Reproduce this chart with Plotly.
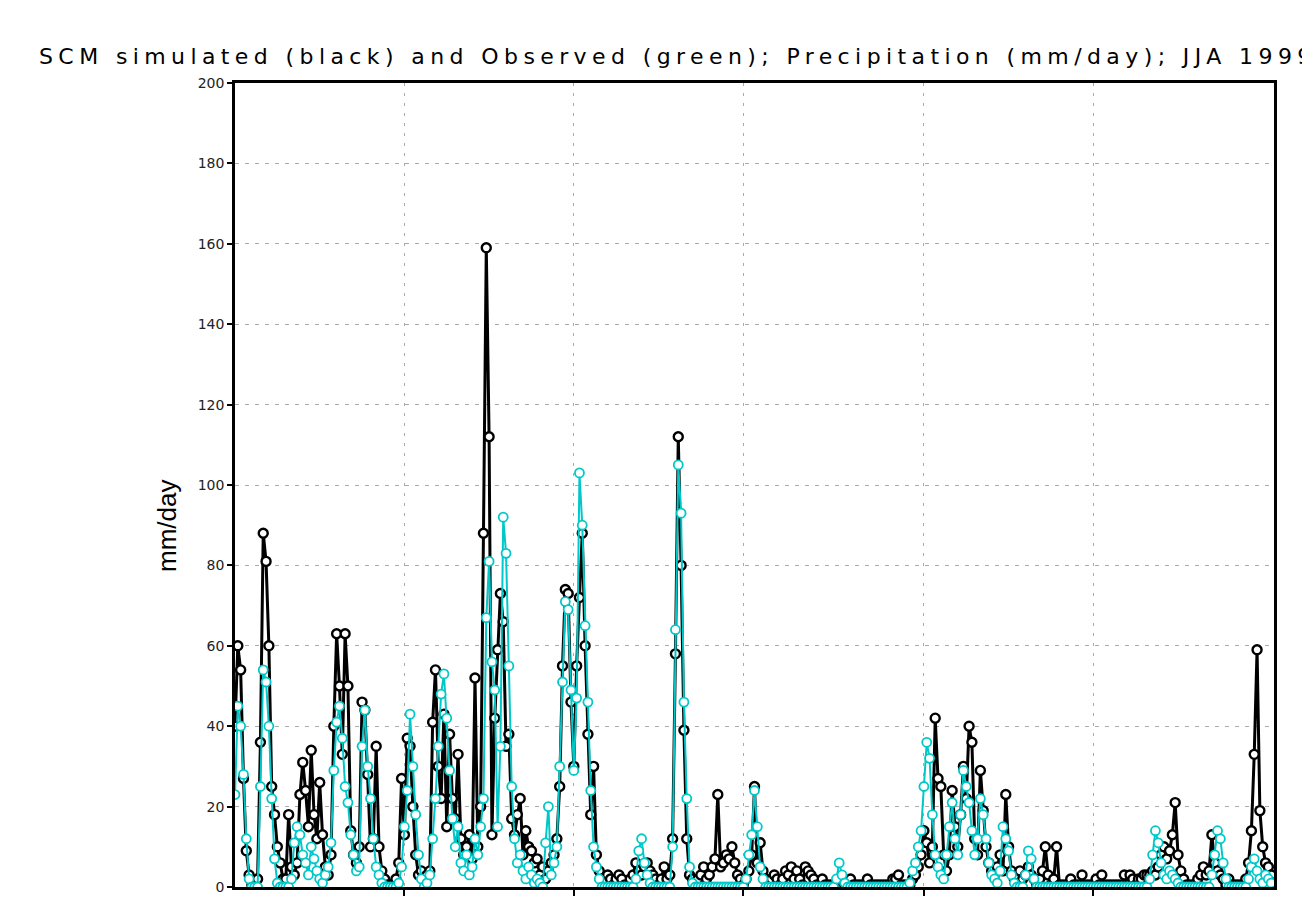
import pandas as pd
import plotly.graph_objects as go

# 6-hourly precipitation (mm/day), JJA 1999
sim_jun = [
    40, 60, 54, 27, 9, 3, 0.5, 0.5, 2, 36,
    88, 81, 60, 25, 18, 10, 6, 2, 2, 18,
    5, 3, 6, 23, 31, 24, 15, 34, 18, 12,
    26, 13, 5, 3, 8, 40, 63, 50, 33, 63,
    50, 14, 8, 6, 10, 46, 44, 28, 10, 12,
    35, 10, 4, 2, 0.5, 0.5, 0.5, 2, 6, 27,
    13, 37, 35, 20, 8, 3, 4, 2, 3, 4,
    41, 54, 30, 22, 43, 15, 38, 22, 17, 33,
    12, 8, 10, 13, 7, 52, 10, 20, 88, 159,
    112, 13, 42, 59, 73, 66, 35, 38, 17, 13,
    18, 22, 8, 14, 10, 9, 6, 7, 3, 5,
    2, 4, 6, 8, 12, 25, 55, 74, 73, 46,
]
sim_jul = [
    30, 55, 72, 88, 60, 38, 18, 30, 8, 4,
    2, 2, 3, 2, 0.5, 2, 3, 2, 0.5, 0.5,
    2, 3, 6, 4, 3, 5, 6, 4, 3, 2,
    0.5, 2, 5, 2, 3, 12, 58, 112, 80, 39,
    12, 3, 2, 0.5, 2, 3, 5, 2, 3, 5,
    7, 23, 5, 6, 8, 7, 10, 6, 3, 2,
    0.5, 2, 4, 8, 25, 6, 11, 4, 2, 0.5,
    2, 3, 2, 0.5, 2, 4, 3, 5, 2, 4,
    2, 0.5, 5, 4, 3, 2, 0.5, 0.5, 2, 0.5,
    0.5, 0.5, 0.5, 0.5, 0.5, 0.5, 0.5, 0.5, 2, 0.5,
    0.5, 0.5, 0.5, 0.5, 2, 0.5, 0.5, 0.5, 0.5, 0.5,
    0.5, 0.5, 0.5, 2, 2, 3, 0.5, 0.5, 0.5, 0.5,
    2, 3, 5, 8,
]
sim_aug = [
    14, 11, 6, 10, 42, 27, 25, 8, 4, 8,
    24, 15, 10, 18, 30, 22, 40, 36, 12, 8,
    29, 19, 10, 6, 4, 3, 5, 8, 4, 23,
    10, 4, 2, 3, 4, 2, 3, 5, 3, 2,
    0.5, 2, 4, 10, 3, 0.5, 2, 10, 0.5, 0.5,
    0.5, 0.5, 2, 0.5, 0.5, 0.5, 3, 0.5, 0.5, 0.5,
    0.5, 2, 0.5, 3, 0.5, 0.5, 0.5, 0.5, 0.5, 0.5,
    0.5, 3, 0.5, 3, 2, 0.5, 2, 2, 3, 3,
    3, 4, 3, 5, 8, 10, 7, 9, 13, 21,
    8, 4, 2, 0.5, 0.5, 0.5, 0.5, 2, 3, 5,
    3, 4, 13, 6, 4, 3, 2, 0.5, 2, 0.5,
    0.5, 0.5, 0.5, 0.5, 2, 6, 14, 33, 59, 19,
    10, 6, 5, 3,
]
obs_jun = [
    23, 45, 40, 28, 12, 2, 0, 0, 0, 25,
    54, 51, 40, 22, 7, 1, 0, 0, 0, 0,
    2, 11, 15, 13, 8, 6, 3, 10, 7, 4,
    2, 1, 3, 5, 11, 29, 41, 45, 37, 25,
    21, 13, 8, 4, 5, 35, 44, 30, 22, 12,
    5, 3, 1, 0, 0, 0, 0, 0, 1, 5,
    15, 24, 43, 30, 18, 8, 2, 0, 1, 3,
    12, 22, 35, 48, 53, 42, 29, 17, 10, 15,
    6, 4, 8, 3, 5, 12, 8, 15, 22, 67,
    81, 56, 49, 15, 35, 92, 83, 55, 25, 12,
    6, 8, 4, 2, 5, 3, 1, 2, 1, 0,
    11, 20, 3, 6, 10, 30, 51, 71, 69, 49,
]
obs_jul = [
    29, 47, 103, 90, 65, 46, 24, 10, 5, 2,
    0, 0, 0, 0, 0, 0, 0, 0, 0, 0,
    0, 0, 2, 9, 12, 6, 3, 1, 0, 0,
    0, 0, 0, 0, 0, 10, 64, 105, 93, 46,
    22, 5, 1, 0, 0, 0, 0, 0, 0, 0,
    0, 0, 0, 0, 0, 0, 0, 0, 0, 0,
    0, 2, 8, 13, 24, 15, 5, 2, 0, 0,
    0, 0, 0, 0, 0, 0, 0, 0, 0, 0,
    0, 0, 0, 0, 0, 0, 0, 0, 0, 0,
    0, 0, 0, 2, 6, 3, 1, 0, 0, 0,
    0, 0, 0, 0, 0, 0, 0, 0, 0, 0,
    0, 0, 0, 0, 0, 0, 0, 0, 0, 1,
    4, 6, 10, 14,
]
obs_aug = [
    25, 36, 32, 18, 8, 5, 3, 2, 8, 15,
    21, 12, 8, 18, 29, 25, 21, 14, 8, 12,
    22, 18, 12, 6, 3, 2, 1, 4, 15, 12,
    9, 3, 1, 0, 0, 0, 3, 9, 7, 2,
    0, 0, 0, 0, 0, 0, 0, 0, 0, 0,
    0, 0, 0, 0, 0, 0, 0, 0, 0, 0,
    0, 0, 0, 0, 0, 0, 0, 0, 0, 0,
    0, 0, 0, 0, 0, 0, 0, 0, 0, 0,
    2, 8, 14, 11, 6, 3, 2, 4, 3, 2,
    1, 0, 0, 0, 0, 0, 0, 0, 0, 0,
    0, 0, 3, 8, 14, 12, 6, 2, 0, 0,
    0, 0, 0, 0, 0, 2, 5, 7, 4, 2,
    1, 3, 2, 1,
]

x_tick_dates = ["1999-06-16", "1999-07-01", "1999-07-16", "1999-08-01", "1999-08-16"]
x_tick_text = ["16JUN", "1JUL", "16JUL", "1AUG", "16AUG"]
y_ticks = [0, 20, 40, 60, 80, 100, 120, 140, 160, 180, 200]

title_text = "SCM simulated (black) and Observed (green); Precipitation (mm/day); JJA 1999"
ylabel_text = "mm/day"

sim = sim_jun + sim_jul + sim_aug
obs = obs_jun + obs_jul + obs_aug
times = pd.date_range("1999-06-01 00:00", periods=len(sim), freq="6h")

CYAN = "rgb(0,200,200)"

fig = go.Figure()
fig.add_trace(go.Scatter(
    x=times, y=sim, mode="lines+markers",
    line=dict(color="black", width=3),
    marker=dict(symbol="circle", size=9, color="white",
                line=dict(color="black", width=2.4)),
    showlegend=False,
))
fig.add_trace(go.Scatter(
    x=times, y=obs, mode="lines+markers",
    line=dict(color=CYAN, width=2),
    marker=dict(symbol="circle", size=9, color="white",
                line=dict(color=CYAN, width=1.8)),
    showlegend=False,
))

L, R, T, B = 235, 28, 83, 12
W, H = 1302, 899
pw = W - L - R
ph = H - T - B

fig.update_layout(
    template="none",
    width=W, height=H,
    margin=dict(l=L, r=R, t=T, b=B, pad=0, autoexpand=False),
    paper_bgcolor="white", plot_bgcolor="white",
    showlegend=False,
    xaxis=dict(
        type="date",
        range=["1999-06-01 00:00", "1999-09-01 00:00"],
        tickvals=x_tick_dates, ticktext=x_tick_text,
        ticks="outside", ticklen=6, tickwidth=1.5, tickcolor="black",
        tickfont=dict(family="DejaVu Sans", size=14, color="#222"),
        showgrid=True, gridcolor="#aaaaaa", gridwidth=1, griddash="3px,7px",
        showline=True, mirror=True, linecolor="black", linewidth=2.5,
        zeroline=False, automargin=False,
    ),
    yaxis=dict(
        range=[0, 200],
        tickvals=y_ticks,
        ticktext=[str(v) for v in y_ticks],
        ticks="outside", ticklen=5, tickwidth=1.5, tickcolor="black",
        tickfont=dict(family="DejaVu Sans", size=14, color="#222"),
        showgrid=True, gridcolor="#aaaaaa", gridwidth=1, griddash="4px,6px",
        showline=True, mirror=True, linecolor="black", linewidth=2.5,
        zeroline=False, automargin=False,
    ),
    annotations=[
        dict(
            text='<span style="letter-spacing:5.4px">' + title_text + "</span>",
            xref="paper", yref="paper",
            x=(37 - L) / pw, y=(H - B - 56) / ph,
            xanchor="left", yanchor="middle", showarrow=False,
            font=dict(family="DejaVu Sans", size=22, color="black"),
        ),
        dict(
            text=ylabel_text,
            xref="paper", yref="paper",
            x=(167 - L) / pw, y=(H - B - 526) / ph,
            xanchor="center", yanchor="middle", showarrow=False,
            textangle=-90,
            font=dict(family="Liberation Sans", size=26, color="black"),
        ),
    ],
)

fig.write_html("out.html")
